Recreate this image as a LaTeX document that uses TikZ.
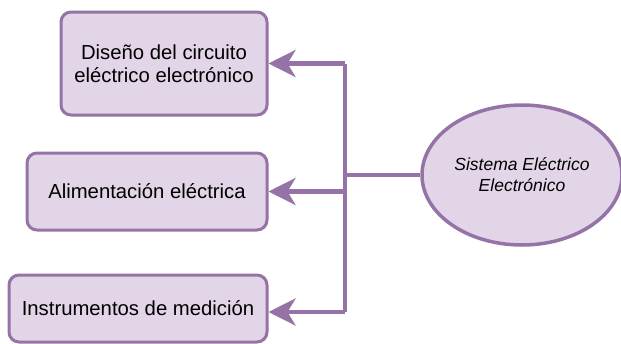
\documentclass[tikz,border=0pt]{standalone}
\usepackage{fontspec}
\setmainfont{Liberation Sans}
\usetikzlibrary{arrows.meta,shapes.geometric}
\definecolor{pfill}{HTML}{E1D5E7}
\definecolor{pdraw}{HTML}{9673A6}
\begin{document}
\begin{tikzpicture}[x=1pt,y=-1pt,
  box/.style={draw=pdraw, fill=pfill, line width=3pt, rounded corners=10pt, align=center,
    font=\fontsize{20.3}{23}\selectfont, inner sep=0pt},
  ell/.style={draw=pdraw, fill=pfill, line width=3.5pt, ellipse, align=center,
    font=\fontsize{17.5}{21}\selectfont\itshape, inner sep=0pt},
  conn/.style={draw=pdraw, line width=4.5pt},
  arr/.style={conn, -{Stealth[length=27pt, width=27pt, inset=8pt]}}]
\useasboundingbox (0,0) rectangle (621,343);
\node[box, minimum width=206pt, minimum height=103pt] (b1) at (164,63.5) {Diseño del circuito\\eléctrico electrónico};
\node[box, minimum width=240pt, minimum height=77pt] (b2) at (147,191.5) {Alimentación eléctrica};
\node[box, minimum width=258pt, minimum height=67pt] (b3) at (138,308.5) {Instrumentos de medición};
\node[ell, minimum width=200pt, minimum height=140pt] (e) at (522,175) {Sistema Eléctrico\\Electrónico};
\coordinate (jm) at (345,175);
\coordinate (j1) at (345,63.5);
\coordinate (j2) at (345,191.5);
\coordinate (j3) at (345,312);
\draw[conn] (e.west) -- (jm);
\draw[conn] (j1) -- (j3);
\draw[arr] (j1) -- (b1.east);
\draw[arr] (j2) -- (b2.east);
\draw[arr] (j3) -- (b3.east |- j3);
\end{tikzpicture}
\end{document}
